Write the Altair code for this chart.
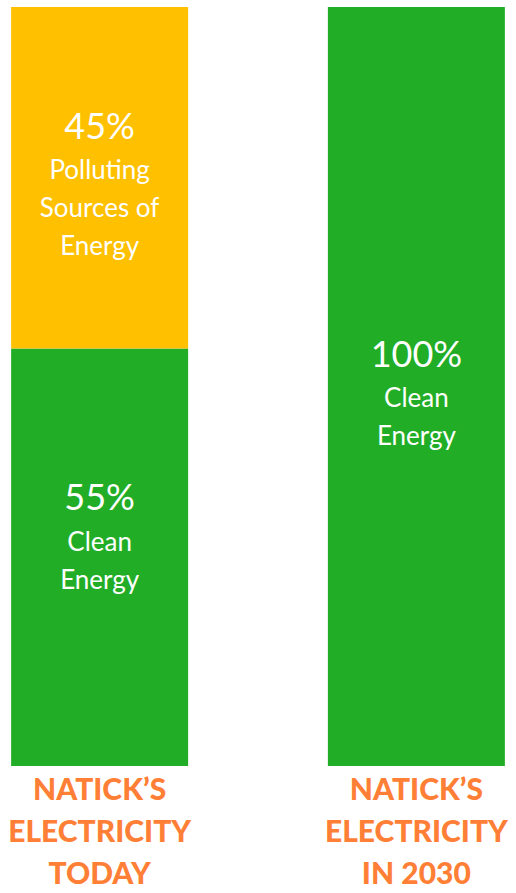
import altair as alt
import pandas as pd

# ---- data ----
categories = ["NATICK’S|ELECTRICITY|TODAY", "NATICK’S|ELECTRICITY|IN 2030"]
segment_bar = [categories[0], categories[0], categories[1]]
segment_kind = ["Clean", "Polluting", "Clean"]
percent = [55, 45, 100]
pct_labels = ["55%", "45%", "100%"]
descriptions = ["Clean\nEnergy", "Polluting\nSources of\nEnergy", "Clean\nEnergy"]

# build stacked table (bottom-up within each bar)
rows = []
acc = {}
for i, (b, k, p, pl, d) in enumerate(zip(segment_bar, segment_kind, percent, pct_labels, descriptions)):
    y0 = acc.get(b, 0)
    y1 = y0 + p
    acc[b] = y1
    rows.append(dict(seg=i, bar=b, kind=k, y0=y0, y1=y1, mid=(y0 + y1) / 2, pct=pl, desc=d))
df = pd.DataFrame(rows)

GREEN = "#22AD27"
YELLOW = "#FFC000"
ORANGE = "#FF7F36"
FONT = "Lato"

x = alt.X(
    "bar:N",
    sort=categories,
    scale=alt.Scale(paddingInner=0.441, paddingOuter=0.035),
    axis=alt.Axis(
        title=None, labelAngle=0, domain=False, ticks=False, grid=False,
        labelExpr="split(datum.label, '|')",
        labelFont=FONT, labelFontWeight=900, labelFontSize=30,
        labelColor=ORANGE, labelLineHeight=42, labelPadding=9,
        labelBaseline="top", labelLimit=400,
    ),
)
yscale = alt.Scale(domain=[0, 100], nice=False, zero=True)

base = alt.Chart(df)

bars = base.mark_bar(size=177).encode(
    x=x,
    y=alt.Y("y0:Q", scale=yscale, axis=None),
    y2="y1:Q",
    color=alt.Color("kind:N", scale=alt.Scale(domain=["Clean", "Polluting"], range=[GREEN, YELLOW]), legend=None),
)

def seg_text(seg, pct_dy, desc_dy):
    b = base.transform_filter(alt.datum.seg == seg)
    p = b.mark_text(font=FONT, fontSize=36, color="white", baseline="middle", dy=pct_dy).encode(
        x=x, y=alt.Y("mid:Q", scale=yscale), text="pct:N")
    d = b.mark_text(font=FONT, fontSize=26, color="white", baseline="middle", lineBreak="\n",
                    lineHeight=38, dy=desc_dy).encode(
        x=x, y=alt.Y("mid:Q", scale=yscale), text="desc:N")
    return [p, d]

layers = [bars]
layers += seg_text(0, -58, -14)
layers += seg_text(1, -50, -7)
layers += seg_text(2, -31, 12.5)

chart = alt.layer(*layers).properties(
    width=516, height=759,
    background="white",
    padding={"left": 0, "right": 0, "top": 7, "bottom": 127},
    autosize=alt.AutoSizeParams(type="none"),
).configure_view(strokeWidth=0, stroke="transparent")

chart.save("out.html", embed_options={"renderer": "svg", "actions": False})
